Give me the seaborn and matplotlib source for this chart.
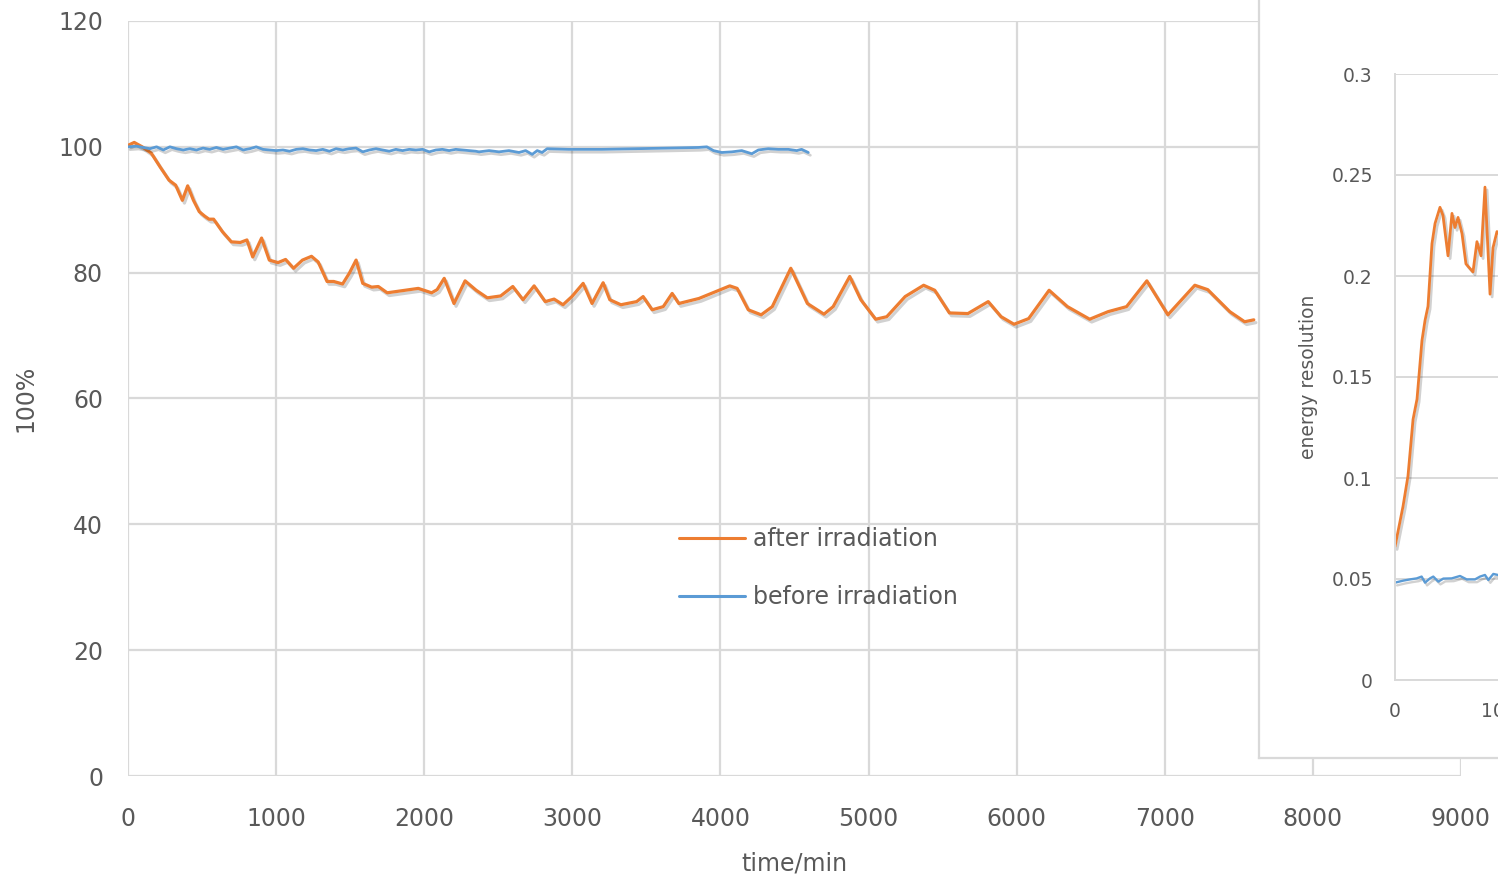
import numpy as np
import pandas as pd
import seaborn as sns
import matplotlib
matplotlib.use("Agg")
import matplotlib.pyplot as plt
import matplotlib.patheffects as pe
from matplotlib.ticker import FuncFormatter

sns.set_theme(style="whitegrid")
plt.rcParams['font.family'] = ['DejaVu Sans']

#%% data
# after irradiation, relative value (%)
after_x = [6, 42, 96, 157, 217, 277, 322, 367, 403, 442, 481, 517, 547, 578, 638, 698, 758, 803,
           842, 902, 954, 1013, 1064, 1118, 1178, 1239, 1284, 1344, 1389, 1449, 1494, 1540, 1585,
           1645, 1690, 1750, 1870, 1960, 2050, 2087, 2135, 2201, 2276, 2351, 2426, 2516, 2598,
           2667, 2742, 2817, 2877, 2937, 2997, 3073, 3133, 3208, 3253, 3328, 3434, 3478, 3539,
           3614, 3674, 3719, 3855, 4063, 4113, 4188, 4275, 4350, 4475, 4587, 4699, 4761, 4873,
           4948, 5048, 5123, 5247, 5372, 5447, 5546, 5671, 5808, 5895, 5982, 6081, 6219, 6343,
           6493, 6617, 6742, 6879, 7021, 7203, 7290, 7439, 7539, 7601]
after_y = [100.3, 100.7, 100.0, 99.0, 96.8, 94.7, 93.9, 91.5, 93.8, 91.5, 89.7, 89.0, 88.5, 88.5,
           86.5, 84.9, 84.8, 85.2, 82.5, 85.5, 82.0, 81.6, 82.1, 80.7, 82.0, 82.6, 81.7, 78.6,
           78.6, 78.2, 79.9, 82.0, 78.3, 77.7, 77.8, 76.8, 77.2, 77.5, 76.8, 77.3, 79.1, 75.1,
           78.7, 77.2, 76.0, 76.3, 77.8, 75.7, 77.9, 75.4, 75.8, 74.9, 76.2, 78.3, 75.1, 78.4,
           75.7, 74.9, 75.4, 76.2, 74.1, 74.6, 76.7, 75.1, 75.9, 77.9, 77.5, 74.1, 73.3, 74.6,
           80.7, 75.1, 73.4, 74.6, 79.4, 75.7, 72.6, 73.0, 76.2, 78.0, 77.2, 73.6, 73.5, 75.4,
           73.0, 71.8, 72.7, 77.2, 74.6, 72.6, 73.8, 74.6, 78.7, 73.3, 78.0, 77.3, 73.8, 72.2, 72.5]

# before irradiation, relative value (%)
before_x = [0, 58, 103, 148, 193, 238, 283, 328, 373, 418, 462, 507, 552, 597, 642, 687, 732, 777,
            822, 866, 911, 956, 1001, 1046, 1091, 1136, 1181, 1226, 1270, 1315, 1360, 1405, 1450,
            1495, 1540, 1585, 1630, 1675, 1719, 1764, 1809, 1854, 1899, 1944, 1989, 2034, 2079,
            2123, 2168, 2213, 2258, 2303, 2348, 2370, 2438, 2505, 2572, 2640, 2685, 2729, 2763,
            2796, 2830, 2976, 3201, 3425, 3650, 3852, 3908, 3953, 4009, 4077, 4144, 4212, 4256,
            4323, 4391, 4458, 4515, 4548, 4593]
before_y = [100.0, 100.1, 99.9, 99.7, 100.0, 99.5, 100.0, 99.7, 99.5, 99.7, 99.5, 99.8, 99.6, 99.9,
            99.6, 99.8, 100.0, 99.5, 99.7, 100.0, 99.6, 99.5, 99.4, 99.5, 99.3, 99.6, 99.7, 99.5,
            99.4, 99.6, 99.3, 99.7, 99.5, 99.7, 99.8, 99.2, 99.5, 99.7, 99.5, 99.3, 99.6, 99.4,
            99.6, 99.5, 99.6, 99.2, 99.5, 99.6, 99.4, 99.6, 99.5, 99.4, 99.3, 99.2, 99.4, 99.2,
            99.4, 99.1, 99.4, 98.8, 99.4, 99.1, 99.7, 99.6, 99.6, 99.7, 99.8, 99.9, 100.0, 99.4,
            99.1, 99.2, 99.4, 98.9, 99.5, 99.7, 99.6, 99.6, 99.4, 99.6, 99.1]

# inset: energy resolution
res_after_x = [0, 73, 118, 164, 200, 245, 273, 300, 336, 364, 409, 436, 482, 518, 545, 573, 609,
               645, 709, 745, 782, 818, 864, 891, 927, 960]
res_after_y = [0.066, 0.086, 0.101, 0.129, 0.139, 0.168, 0.178, 0.185, 0.216, 0.226, 0.234, 0.230,
               0.210, 0.231, 0.224, 0.229, 0.221, 0.206, 0.202, 0.217, 0.210, 0.244, 0.191, 0.214,
               0.222, 0.220]
res_before_x = [0, 76, 136, 197, 242, 273, 318, 348, 394, 439, 515, 591, 652, 727, 773, 818, 848,
                894, 936, 960]
res_before_y = [0.0482, 0.0492, 0.0498, 0.0503, 0.0512, 0.0482, 0.0503, 0.0512, 0.0487, 0.0502,
                0.0503, 0.0515, 0.0498, 0.0498, 0.0512, 0.0520, 0.0495, 0.0525, 0.0520, 0.0515]

main_xticks = [0, 1000, 2000, 3000, 4000, 5000, 6000, 7000, 8000, 9000]
main_yticks = [0, 20, 40, 60, 80, 100, 120]
inset_yticks = [0, 0.05, 0.1, 0.15, 0.2, 0.25, 0.3]
inset_xticks = [0, 1000, 2000]

#%% styling
orange = '#ED7D31'
blue = '#5B9BD5'
gridc = '#D9D9D9'
textc = '#595959'
W, H = 1498, 880
shadow = [pe.SimpleLineShadow(offset=(1.5, -2), shadow_color='black', alpha=0.18), pe.Normal()]

fig = plt.figure(figsize=(W / 100, H / 100), dpi=100)

# main axes, px 128..1461 horizontally, 21..776 vertically
ax = fig.add_axes([128 / W, (H - 776) / H, (1461 - 128) / W, (776 - 21) / H])
df_after = pd.DataFrame({'x': after_x, 'y': after_y})
df_before = pd.DataFrame({'x': before_x, 'y': before_y})
sns.lineplot(data=df_after, x='x', y='y', ax=ax, color=orange, lw=2.3, estimator=None,
             sort=False, label='after irradiation', path_effects=shadow)
sns.lineplot(data=df_before, x='x', y='y', ax=ax, color=blue, lw=2.0, estimator=None,
             sort=False, label='before irradiation', path_effects=shadow)

ax.set_xlim(0, 9000)
ax.set_ylim(0, 120)
ax.set_xticks(main_xticks)
ax.set_yticks(main_yticks)
ax.grid(True, color=gridc, lw=1.6)
ax.set_facecolor('white')
for s in ax.spines.values():
    s.set_visible(False)
ax.tick_params(axis='both', length=0, labelsize=17, labelcolor=textc)
ax.tick_params(axis='y', pad=18)
ax.tick_params(axis='x', pad=22)
ax.set_xlabel('time/min', fontsize=17, color=textc)
ax.set_ylabel('100%', fontsize=17, color=textc)
ax.xaxis.set_label_coords(0.5, (776 - 863) / 755)
ax.xaxis.label.set_va('center')
ax.yaxis.set_label_coords((25 - 128) / 1333, 0.5)
ax.yaxis.label.set_va('center')

leg = ax.legend(loc='center left', bbox_to_anchor=(3717, 33.0), bbox_transform=ax.transData,
                frameon=False, fontsize=17, borderpad=0, borderaxespad=0, handlelength=2.8,
                handletextpad=0.35, labelspacing=1.43)
for t in leg.get_texts():
    t.set_color(textc)
for h in leg.legend_handles:
    h.set_linewidth(2.2)
    h.set_path_effects([])

#%% inset box (white panel over the right side)
box = fig.add_axes([1259 / W, (H - 758) / H, 1.0, 1.0])
box.set_facecolor('white')
box.set_xticks([])
box.set_yticks([])
box.grid(False)
for s in box.spines.values():
    s.set_color(gridc)
    s.set_linewidth(1.6)
box.set_zorder(2)

# inset plot, px 1395.. (110 px per 1000 min), 74..680 vertically
ins = fig.add_axes([1395 / W, (H - 680) / H, 330 / W, (680 - 74) / H])
ins.set_zorder(3)
df_ra = pd.DataFrame({'x': res_after_x, 'y': res_after_y})
df_rb = pd.DataFrame({'x': res_before_x, 'y': res_before_y})
sns.lineplot(data=df_ra, x='x', y='y', ax=ins, color=orange, lw=2.0, estimator=None,
             sort=False, path_effects=shadow, legend=False)
sns.lineplot(data=df_rb, x='x', y='y', ax=ins, color=blue, lw=1.7, estimator=None,
             sort=False, path_effects=shadow, legend=False)
ins.set_xlim(0, 3000)
ins.set_ylim(0, 0.3)
ins.set_xticks(inset_xticks)
ins.set_yticks(inset_yticks)
ins.yaxis.set_major_formatter(FuncFormatter(lambda v, _: f'{v:g}'))
ins.set_facecolor('white')
ins.grid(True, axis='y', color=gridc, lw=1.4)
ins.grid(False, axis='x')
for k, s in ins.spines.items():
    s.set_visible(k in ('left', 'bottom'))
    s.set_color(gridc)
    s.set_linewidth(1.4)
ins.tick_params(axis='both', length=0, labelsize=13.5, labelcolor=textc, pad=16)
ins.set_xlabel('')
ins.set_ylabel('energy resolution', fontsize=13.5, color=textc)
ins.yaxis.set_label_coords((1308 - 1395) / 330, 0.5)
ins.yaxis.label.set_va('center')

fig.savefig('out.png', dpi=100, facecolor='white')
